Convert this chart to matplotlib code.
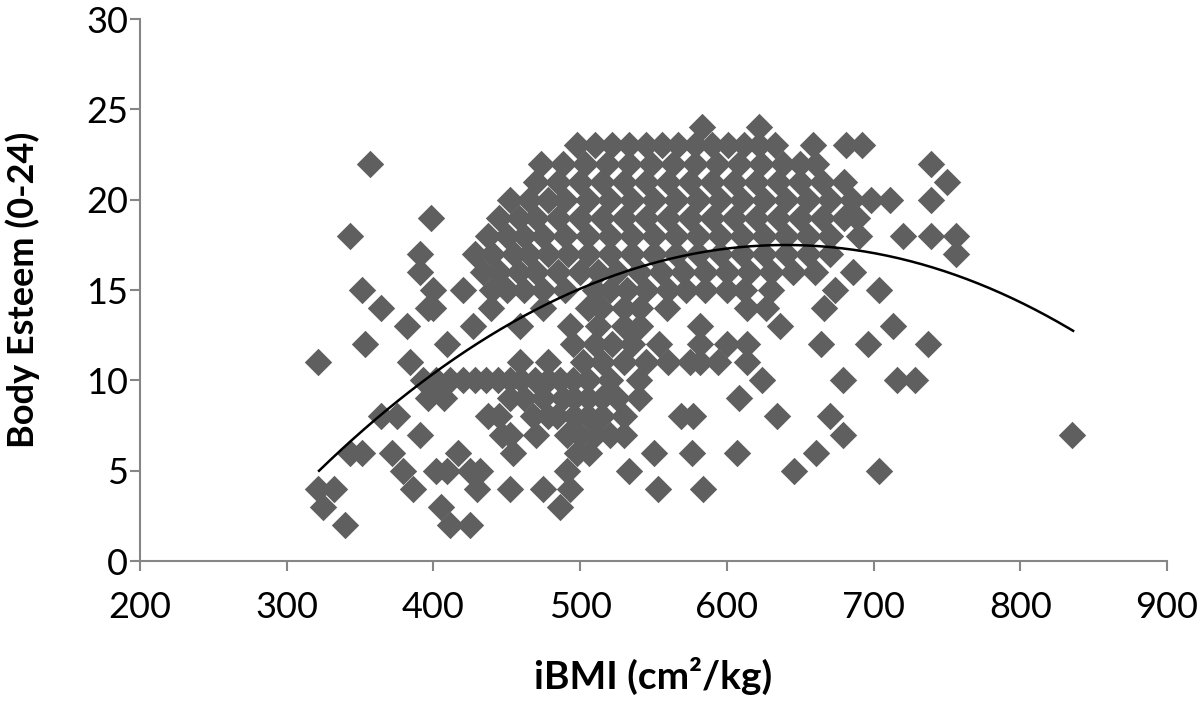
import matplotlib.pyplot as plt
import numpy as np

plt.rcParams["font.family"] = ["Lato", "DejaVu Sans"]

# iBMI values (cm2/kg) for each Body Esteem score
ibmi_by_score = {
    2: [340, 411, 425],
    3: [325, 405, 486],
    4: [321, 332, 386, 430, 452, 475, 493, 553, 584],
    5: [379, 402, 409, 425, 432, 491, 533, 646, 704],
    6: [343, 351, 372, 417, 454, 498, 506, 550, 576, 607, 661],
    7: [391, 447, 452, 470, 491, 500, 510, 520, 530, 679, 835],
    8: [364, 375, 437, 445, 468, 478, 484, 496, 505, 515, 530, 569, 577, 634, 670],
    9: [396, 407, 452, 462, 475, 488, 496, 505, 515, 525, 540, 608],
    10: [393, 402, 411, 420, 428, 436, 444, 452, 460, 469, 478, 486, 495, 505,
         520, 540, 624, 679, 716, 728],
    11: [321, 384, 459, 478, 502, 515, 530, 545, 560, 575, 582, 594, 614],
    12: [353, 409, 495, 510, 522, 535, 554, 582, 600, 614, 664, 696, 737],
    13: [382, 427, 459, 493, 512, 530, 541, 582, 636, 713],
    14: [364, 396, 400, 439, 475, 505, 514, 530, 541, 559, 614, 627, 666],
    15: [351, 400, 420, 440, 450, 462, 475, 490, 510, 520, 532, 545, 560, 572,
         585, 600, 612, 630, 674, 704],
    16: [391, 434, 445, 458, 470, 485, 500, 512, 525, 540, 555, 570, 585, 600,
         615, 630, 645, 660, 686],
    17: [391, 428, 440, 455, 465, 478, 492, 505, 520, 535, 550, 565, 580, 595,
         610, 625, 640, 655, 670, 756],
    18: [343, 437, 450, 462, 475, 490, 505, 520, 535, 550, 565, 580, 595, 610,
         625, 640, 655, 670, 690, 720, 739, 756],
    19: [398, 445, 458, 470, 485, 500, 515, 530, 545, 560, 575, 590, 605, 620,
         635, 650, 665, 680, 689],
    20: [452, 465, 478, 490, 505, 520, 535, 550, 565, 580, 595, 610, 625, 640,
         655, 670, 685, 698, 711, 739],
    21: [470, 485, 500, 515, 530, 545, 560, 575, 590, 605, 620, 635, 650, 665,
         680, 750],
    22: [357, 473, 488, 503, 518, 533, 548, 563, 578, 593, 608, 623, 638, 650,
         661, 739],
    23: [498, 510, 522, 533, 545, 556, 567, 578, 590, 601, 612, 622, 633, 659,
         681, 692],
    24: [583, 622],
}

# polynomial (order 2) trendline as shown on the chart
trend_coef = [-1.236e-4, 0.1582, -33.13]
trend_span = [322, 836]

x_ticks = [200, 300, 400, 500, 600, 700, 800, 900]
y_ticks = [0, 5, 10, 15, 20, 25, 30]

ibmi = []
esteem = []
for score, values in ibmi_by_score.items():
    ibmi.extend(values)
    esteem.extend([score] * len(values))

fig = plt.figure(figsize=(12, 7.07), dpi=100)
ax = fig.add_axes([0.1167, 0.2065, 0.8558, 0.7666])

ax.scatter(ibmi, esteem, marker="D", s=195, color="#5f5f5f", linewidths=0, zorder=2)

xs = np.linspace(trend_span[0], trend_span[1], 200)
ax.plot(xs, np.polyval(trend_coef, xs), color="black", lw=1.8, zorder=3)

ax.set_xlim(x_ticks[0], x_ticks[-1])
ax.set_ylim(y_ticks[0], y_ticks[-1])
ax.set_xticks(x_ticks)
ax.set_yticks(y_ticks)

axis_grey = "#868686"
for side in ["top", "right"]:
    ax.spines[side].set_visible(False)
for side in ["left", "bottom"]:
    ax.spines[side].set_color(axis_grey)
    ax.spines[side].set_linewidth(1.5)
ax.tick_params(axis="both", direction="out", length=7.5, width=1.5, color=axis_grey,
               labelsize=26, labelcolor="black")
ax.tick_params(axis="x", pad=14)
ax.tick_params(axis="y", pad=1)

ax.set_xlabel("iBMI (cm²/kg)", fontsize=28, fontweight="bold", labelpad=24)
ax.set_ylabel("Body Esteem (0-24)", fontsize=26, fontweight="bold")
ax.yaxis.set_label_coords(-0.097, 0.5)

fig.savefig("out.png", dpi=100)
